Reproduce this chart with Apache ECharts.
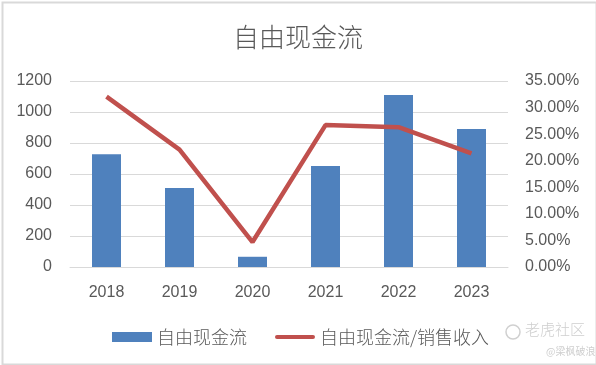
<!DOCTYPE html>
<html><head><meta charset="utf-8">
<script src="https://cdn.jsdelivr.net/npm/echarts@6/dist/echarts.min.js"></script>
<style>html,body{margin:0;padding:0;background:#fff}#c{width:596px;height:365px}</style>
</head><body><div id="c"></div>
<script>
const categories = ['2018','2019','2020','2021','2022','2023'];
const fcfValues = [728, 510, 66, 652, 1110, 890];
const fcfRatio = [0.3205, 0.221, 0.047, 0.267, 0.263, 0.214];
const leftTicks = {min:0, max:1200, interval:200};
const rightTicks = {min:0, max:0.35, interval:0.05};
const seriesNames = ['自由现金流','自由现金流/销售收入'];

const chart = echarts.init(document.getElementById('c'), null, {renderer:'canvas'});
const numFont = '"Liberation Sans", Arial, sans-serif';
const cjkFont = '"Noto Sans CJK SC", sans-serif';
chart.setOption({
  animation:false,
  backgroundColor:'#fff',
  title:{text:'自由现金流', left:'center', top:19,
    textStyle:{fontFamily:cjkFont, fontSize:26, fontWeight:300, color:'#595959'}},
  grid:{left:70, right:88, top:81, bottom:98, containLabel:false},
  legend:{left:107, top:323, itemGap:28, itemWidth:40, itemHeight:10, itemTextGap:7,
    textStyle:{fontFamily:cjkFont, fontSize:18, fontWeight:300, color:'#595959'},
    data:[{name:seriesNames[0], icon:'rect'},
          {name:seriesNames[1], icon:'path://M2,0 L42,0 A2.25,2.25 0 0 1 42,4.5 L2,4.5 A2.25,2.25 0 0 1 2,0 Z'}]},
  xAxis:{type:'category', data:categories,
    axisLine:{lineStyle:{color:'#d9d9d9'}}, axisTick:{show:false},
    axisLabel:{fontFamily:numFont, fontSize:16, color:'#595959', margin:18}},
  yAxis:[
    {type:'value', min:leftTicks.min, max:leftTicks.max, interval:leftTicks.interval,
     axisLine:{show:false}, axisTick:{show:false},
     splitLine:{lineStyle:{color:'#d9d9d9', width:1}},
     axisLabel:{fontFamily:numFont, fontSize:16, color:'#595959', margin:18,
       formatter:v=>String(v)}},
    {type:'value', min:rightTicks.min, max:rightTicks.max, interval:rightTicks.interval,
     axisLine:{show:false}, axisTick:{show:false}, splitLine:{show:false},
     axisLabel:{fontFamily:numFont, fontSize:16, color:'#595959', margin:17,
       formatter:v=>(v*100).toFixed(2)+'%'}}
  ],
  series:[
    {name:seriesNames[0], type:'bar', data:fcfValues, barWidth:29,
     itemStyle:{color:'#4F81BD'}},
    {name:seriesNames[1], type:'line', yAxisIndex:1, data:fcfRatio,
     symbol:'none', lineStyle:{color:'#C0504D', width:4.5}, itemStyle:{color:'#C0504D'}}
  ],
  graphic:[
    {type:'rect', left:0, top:0, shape:{width:594, height:362},
     style:{fill:'none', stroke:'#d9d9d9', lineWidth:2}, silent:true},
    {type:'circle', shape:{cx:513, cy:332, r:7}, style:{fill:'none', stroke:'#d0d0d0', lineWidth:1.5}},
    {type:'text', left:525, top:322, style:{text:'老虎社区', font:'300 15px "Noto Sans CJK SC"', fill:'#cfcfcf'}},
    {type:'text', left:546, top:346, style:{text:'@梁枫破浪', font:'10px "Noto Sans CJK SC"', fill:'#cfcfcf'}}
  ]
});
</script></body></html>
